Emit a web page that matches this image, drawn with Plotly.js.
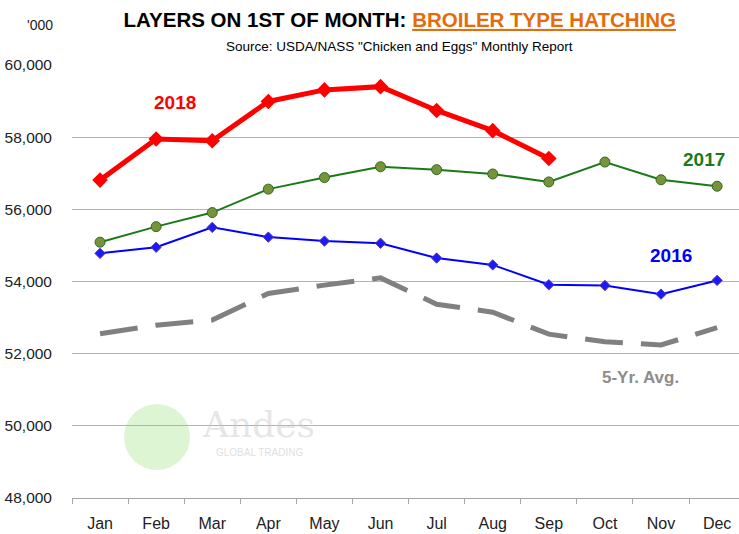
<!DOCTYPE html>
<html><head><meta charset="utf-8">
<script src="https://cdn.plot.ly/plotly-3.0.1.min.js"></script>
<style>html,body{margin:0;padding:0;background:#fff}#chart{width:739px;height:534px}</style>
</head><body><div id="chart"></div>
<script>
const months = ["Jan","Feb","Mar","Apr","May","Jun","Jul","Aug","Sep","Oct","Nov","Dec"];
const y2018 = [56810, 57950, 57900, 58990, 59310, 59400, 58740, 58180, 57410];
const y2017 = [55090, 55520, 55910, 56560, 56880, 57180, 57100, 56980, 56760, 57310, 56820, 56640];
const y2016 = [54780, 54950, 55500, 55230, 55120, 55060, 54650, 54460, 53910, 53890, 53650, 54030];
const avg5 = [52550, 52790, 52930, 53670, 53900, 54100, 53370, 53150, 52540, 52330, 52240, 52720];

const FONT = "Liberation Sans, Arial, sans-serif";

const traces = [
  {x: months, y: avg5, type: 'scatter', mode: 'lines', name: '5-Yr. Avg.',
   line: {color: '#808080', width: 5, dash: '38px,18px'}, hoverinfo: 'y'},
  {x: months, y: y2016, type: 'scatter', mode: 'lines+markers', name: '2016',
   line: {color: '#0000ff', width: 2},
   marker: {symbol: 'diamond', size: 8, color: '#1a1aff', line: {color: '#5b3fa0', width: 1}}},
  {x: months, y: y2017, type: 'scatter', mode: 'lines+markers', name: '2017',
   line: {color: '#1a7a1a', width: 2},
   marker: {symbol: 'circle', size: 10, color: '#77933c', line: {color: '#2e6b1e', width: 1}}},
  {x: months.slice(0, y2018.length), y: y2018, type: 'scatter', mode: 'lines+markers', name: '2018',
   line: {color: '#ff0000', width: 5},
   marker: {symbol: 'diamond', size: 12, color: '#ff0000'}}
];

const layout = {
  width: 739, height: 534,
  margin: {l: 72, r: 0, t: 65, b: 36},
  paper_bgcolor: '#fff', plot_bgcolor: '#fff',
  showlegend: false,
  font: {family: FONT, color: '#222'},
  title: {
    text: "<b>LAYERS ON 1ST OF MONTH: <span style='color:#e46c0a'><u>BROILER TYPE HATCHING</u></span></b>",
    font: {family: FONT, size: 20.5, color: '#000'},
    x: 0.541, xref: 'container', xanchor: 'center',
    y: 0.963, yref: 'container', yanchor: 'middle'
  },
  xaxis: {
    type: 'category', categoryorder: 'array', categoryarray: months,
    range: [-0.5, 11.39],
    showgrid: false, showline: true, linecolor: '#a6a6a6', linewidth: 1,
    ticks: 'outside', tickson: 'boundaries', ticklen: 5, tickcolor: '#a6a6a6',
    ticklabelstandoff: 11,
    tickfont: {family: FONT, size: 16, color: '#222'}, fixedrange: true
  },
  yaxis: {
    range: [48000, 60000], dtick: 2000, tick0: 48000, tickformat: ',d',
    showgrid: true, gridcolor: '#b3b3b3', gridwidth: 1, zeroline: false, showline: false,
    ticks: '', ticklabelstandoff: 19,
    tickfont: {family: FONT, size: 15.5, color: '#222'}, fixedrange: true
  },
  shapes: [
    {type: 'circle', xref: 'paper', yref: 'paper', layer: 'below',
     x0: (124-72)/667, x1: (190-72)/667, y0: 1-(470-65)/433, y1: 1-(404-65)/433,
     fillcolor: 'rgba(190,235,170,0.5)', line: {width: 0}}
  ],
  annotations: [
    {text: "Source: USDA/NASS \"Chicken and Eggs\" Monthly Report", xref: 'paper', yref: 'paper',
     x: (399-72)/667, y: 1+(65-47)/433, showarrow: false, xanchor: 'center', yanchor: 'middle',
     font: {family: FONT, size: 13.5, color: '#000'}},
    {text: "'000", xref: 'paper', yref: 'paper', x: (40-72)/667, y: 1+(65-25)/433,
     showarrow: false, xanchor: 'center', yanchor: 'middle', font: {family: FONT, size: 14, color: '#222'}},
    {text: "<b>2018</b>", x: 1.34, y: 58950, showarrow: false, font: {family: FONT, size: 19, color: '#ff0000'}},
    {text: "<b>2017</b>", x: 10.77, y: 57370, showarrow: false, font: {family: FONT, size: 19, color: '#1a7a1a'}},
    {text: "<b>2016</b>", x: 10.18, y: 54710, showarrow: false, font: {family: FONT, size: 19, color: '#0000ff'}},
    {text: "<b>5-Yr. Avg.</b>", x: 9.64, y: 51350, showarrow: false, font: {family: FONT, size: 17, color: '#8c8c8c'}},
    {text: "Andes", xref: 'paper', yref: 'paper', x: (258-72)/667, y: 1-(424-65)/433,
     showarrow: false, xanchor: 'center', yanchor: 'middle',
     font: {family: 'DejaVu Serif, Liberation Serif, serif', size: 36, color: 'rgba(200,200,200,0.45)'}},
    {text: "GLOBAL TRADING", xref: 'paper', yref: 'paper', x: (259-72)/667, y: 1-(452-65)/433,
     showarrow: false, xanchor: 'center', yanchor: 'middle',
     font: {family: FONT, size: 10, color: 'rgba(200,200,200,0.6)'}}
  ]
};

Plotly.newPlot('chart', traces, layout, {displayModeBar: false, staticPlot: true});
</script></body></html>
